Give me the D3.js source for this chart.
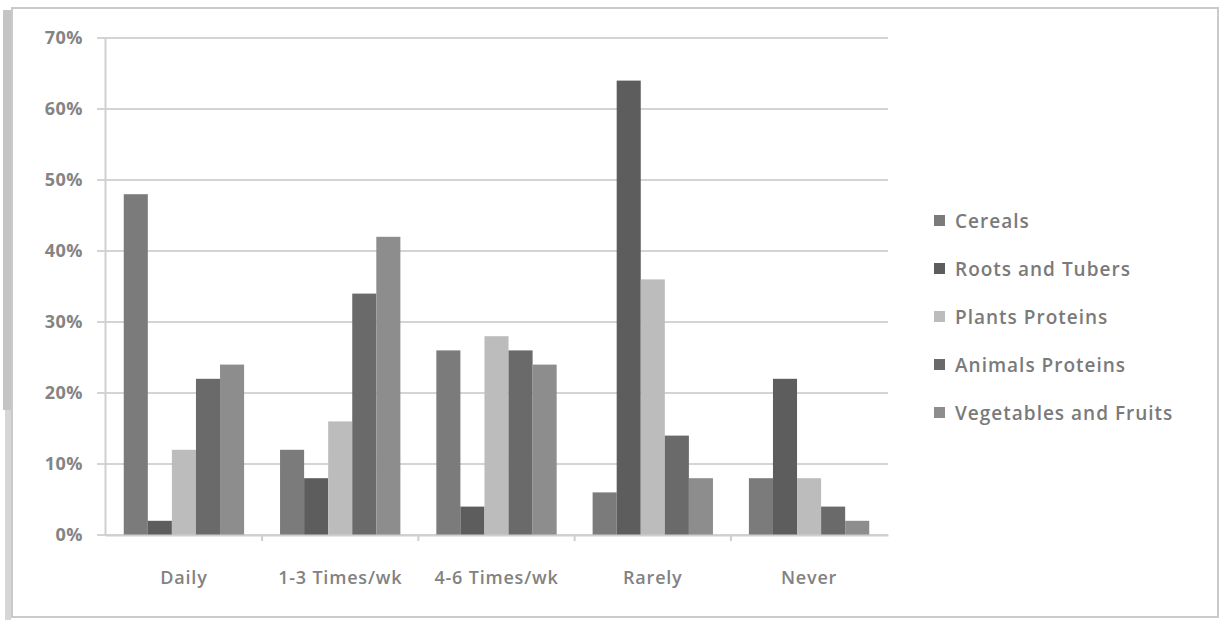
<!DOCTYPE html>
<html>
<head>
<meta charset="utf-8">
<script src="https://cdn.jsdelivr.net/npm/d3@7"></script>
<style>
  body { margin: 0; background: #fff; }
  text { font-family: "Open Sans", "Noto Sans", sans-serif; }
</style>
</head>
<body>
<div id="chart"></div>
<script>
const categories = ["Daily", "1-3 Times/wk", "4-6 Times/wk", "Rarely", "Never"];
const seriesNames = ["Cereals", "Roots and Tubers", "Plants Proteins", "Animals Proteins", "Vegetables and Fruits"];
const cereals = [48, 12, 26, 6, 8];
const roots = [2, 8, 4, 64, 22];
const plants = [12, 16, 28, 36, 8];
const animals = [22, 34, 26, 14, 4];
const vegetables = [24, 42, 24, 8, 2];
const yTicks = [0, 10, 20, 30, 40, 50, 60, 70];

const seriesValues = [cereals, roots, plants, animals, vegetables];
const colors = ["#7b7b7b", "#5d5d5d", "#bcbcbc", "#6a6a6a", "#8d8d8d"];

const width = 1226;
const height = 624;

const svg = d3.select("#chart")
    .append("svg")
        .attr("width", width)
        .attr("height", height);

// chart frame
svg.append("rect")
    .attr("x", 12).attr("y", 8)
    .attr("width", 1206).attr("height", 609)
    .attr("fill", "#fff")
    .attr("stroke", "#cacaca")
    .attr("stroke-width", 2);
svg.append("rect")
    .attr("x", 3).attr("y", 10)
    .attr("width", 8).attr("height", 400)
    .attr("fill", "#c4c4c4");
svg.append("rect")
    .attr("x", 5).attr("y", 410)
    .attr("width", 6).attr("height", 210)
    .attr("fill", "#d6d6d6");

const x0 = d3.scaleBand()
    .domain(categories)
    .range([105, 888])
    .paddingInner(0.23)
    .paddingOuter(0.12);

const x1 = d3.scaleBand()
    .domain(seriesNames)
    .range([0, x0.bandwidth()]);

const y = d3.scaleLinear()
    .domain([0, 70])
    .range([535, 38]);

// gridlines
svg.append("g")
    .selectAll("line")
    .data(yTicks)
    .join("line")
        .attr("x1", 97)
        .attr("x2", 888)
        .attr("y1", d => y(d))
        .attr("y2", d => y(d))
        .attr("stroke", "#d4d4d4")
        .attr("stroke-width", 2);

// y axis
const yAxis = svg.append("g")
    .attr("transform", "translate(105,0)")
    .call(d3.axisLeft(y).tickValues(yTicks).tickFormat(d => d + "%").tickSize(0).tickPadding(22));
yAxis.select(".domain").attr("stroke", "#d0d0d0").attr("stroke-width", 2);
yAxis.selectAll("text")
    .attr("fill", "#848484")
    .attr("font-size", 18)
    .attr("font-weight", "bold")
    .attr("letter-spacing", "0.5px");

// bars
const groups = svg.append("g")
    .selectAll("g")
    .data(categories)
    .join("g")
        .attr("transform", d => `translate(${x0(d)},0)`);

groups.selectAll("rect")
    .data((c, ci) => seriesNames.map((s, si) => ({ s: s, si: si, v: seriesValues[si][ci] })))
    .join("rect")
        .attr("x", d => x1(d.s))
        .attr("y", d => y(d.v))
        .attr("width", x1.bandwidth())
        .attr("height", d => y(0) - y(d.v))
        .attr("fill", d => colors[d.si]);

// x axis
const xAxis = svg.append("g")
    .attr("transform", `translate(0,${y(0)})`)
    .call(d3.axisBottom(x0).tickSize(0).tickPadding(36));
xAxis.select(".domain").attr("stroke", "#cfcfcf").attr("stroke-width", 2);
xAxis.selectAll("text")
    .attr("fill", "#828282")
    .attr("font-size", 18)
    .attr("font-weight", 600)
    .attr("letter-spacing", "0.8px");

// category separator ticks
svg.append("g")
    .selectAll("line")
    .data(categories.slice(1))
    .join("line")
        .attr("x1", d => x0(d) - x0.step() * x0.paddingInner() / 2)
        .attr("x2", d => x0(d) - x0.step() * x0.paddingInner() / 2)
        .attr("y1", y(0))
        .attr("y2", y(0) + 6)
        .attr("stroke", "#cfcfcf")
        .attr("stroke-width", 2);

// legend
const legend = svg.append("g")
    .attr("transform", "translate(934,221)")
    .selectAll("g")
    .data(seriesNames)
    .join("g")
        .attr("transform", (d, i) => `translate(0,${i * 48})`);

legend.append("rect")
    .attr("x", 0).attr("y", -6)
    .attr("width", 11).attr("height", 11)
    .attr("fill", (d, i) => colors[i]);

legend.append("text")
    .attr("x", 21)
    .attr("y", 0)
    .attr("dy", "0.35em")
    .attr("fill", "#7a7a7a")
    .attr("font-size", 19)
    .attr("font-weight", 600)
    .attr("letter-spacing", "1px")
    .text(d => d);
</script>
</body>
</html>
